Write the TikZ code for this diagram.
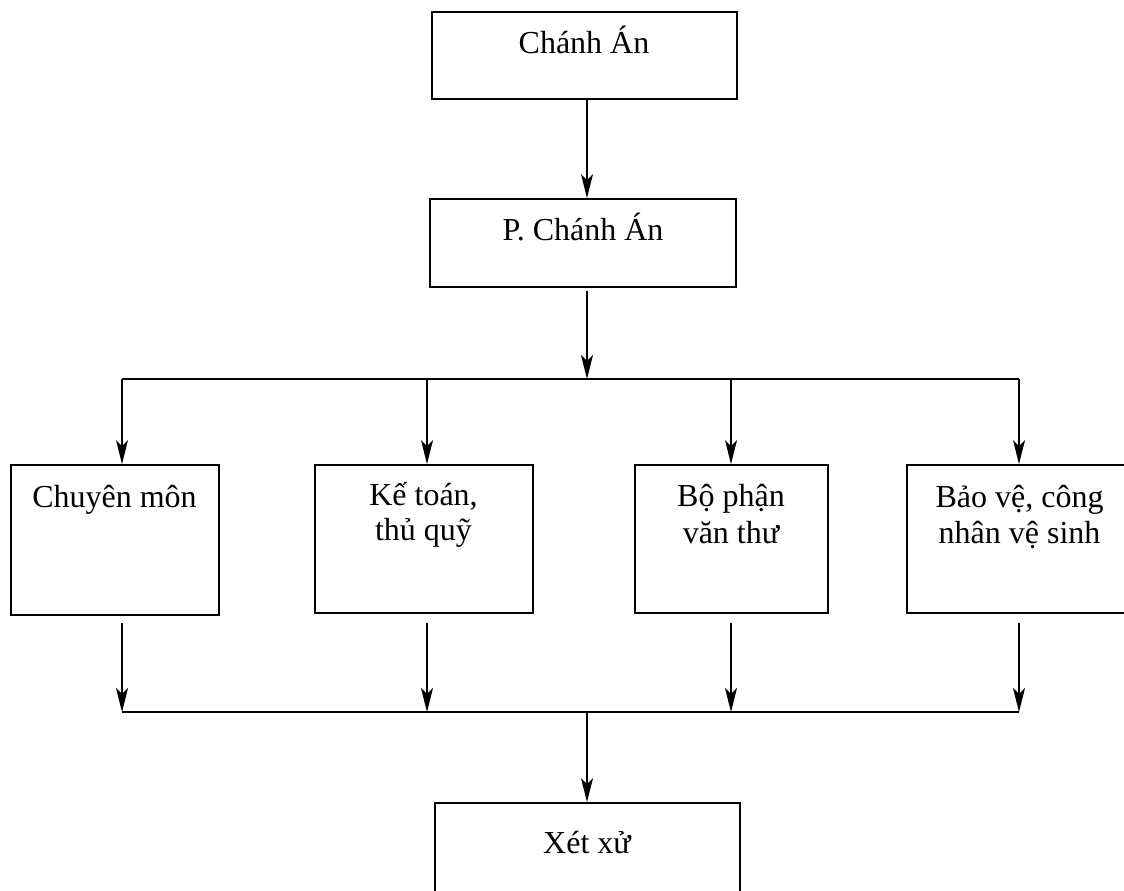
\documentclass[tikz,border=0pt]{standalone}
\usepackage{fontspec}
\setmainfont{Liberation Serif}
\usetikzlibrary{arrows.meta}
\tikzset{
  box/.style={draw, line width=1.8pt, rectangle, inner sep=0pt},
  lbl/.style={anchor=base, inner sep=0pt, align=center, font=\fontsize{32}{36}\selectfont},
  arr/.style={line width=1.8pt, -{Stealth[length=24pt, width=12pt, inset=6pt]}},
  ln/.style={line width=1.8pt}
}
\begin{document}
\begin{tikzpicture}[x=1pt,y=-1pt]
\useasboundingbox (0,0) rectangle (1124,891);
\clip (0,0) rectangle (1124,891);
\fill[white] (0,0) rectangle (1124,891);
% boxes
\node[box, minimum width=305pt, minimum height=87pt] (ca) at (584.5,55.5) {};
\node[box, minimum width=306pt, minimum height=88pt] (pca) at (583,243) {};
\node[box, minimum width=208pt, minimum height=150pt] (cm) at (115,540) {};
\node[box, minimum width=218pt, minimum height=148pt] (kt) at (424,539) {};
\node[box, minimum width=193pt, minimum height=148pt] (bp) at (731.5,539) {};
\node[box, minimum width=226pt, minimum height=148pt] (bv) at (1020,539) {};
\node[box, minimum width=305pt, minimum height=110pt] (xx) at (587.5,858) {};
% labels
\node[lbl] (tca) at (584,53) {Chánh Án};
\node[lbl] (tpca) at (583,240) {P. Chánh Án};
\node[lbl] (tcm) at (114.5,507) {Chuyên môn};
\node[lbl] (tkt1) at (423.5,505) {Kế toán,};
\node[lbl] (tkt2) at (423.5,540) {thủ quỹ};
\node[lbl] (tbp1) at (731,506) {Bộ phận};
\node[lbl] (tbp2) at (731,543) {văn thư};
\node[lbl] (tbv1) at (1019.5,507) {Bảo vệ, công};
\node[lbl] (tbv2) at (1019.5,543) {nhân vệ sinh};
\node[lbl] (txx) at (587,853) {Xét xử};
% coordinates
\coordinate (sp) at (587,0);
\coordinate (b1) at (122,379);
\coordinate (b4) at (1019,379);
\coordinate (bm) at (587,379);
\coordinate (l1) at (122,712);
\coordinate (l4) at (1019,712);
\coordinate (lm) at (587,712);
\coordinate (p2) at (587,291);
% top arrows
\draw[arr] (ca.south -| sp) -- (pca.north -| sp);
\draw[arr] (p2) -- (bm);
\draw[ln] (b1) -- (b4);
\draw[arr] (b1) -- (b1 |- cm.north);
\draw[arr] (427,379) -- (kt.north -| 427,0);
\draw[arr] (731,379) -- (bp.north -| 731,0);
\draw[arr] (b4) -- (b4 |- bv.north);
% lower arrows
\draw[arr] (122,623) -- (l1);
\draw[arr] (427,623) -- (427,712);
\draw[arr] (731,623) -- (731,712);
\draw[arr] (1019,623) -- (l4);
\draw[ln] (l1) -- (l4);
\draw[arr] (lm) -- (xx.north -| lm);
\end{tikzpicture}
\end{document}
